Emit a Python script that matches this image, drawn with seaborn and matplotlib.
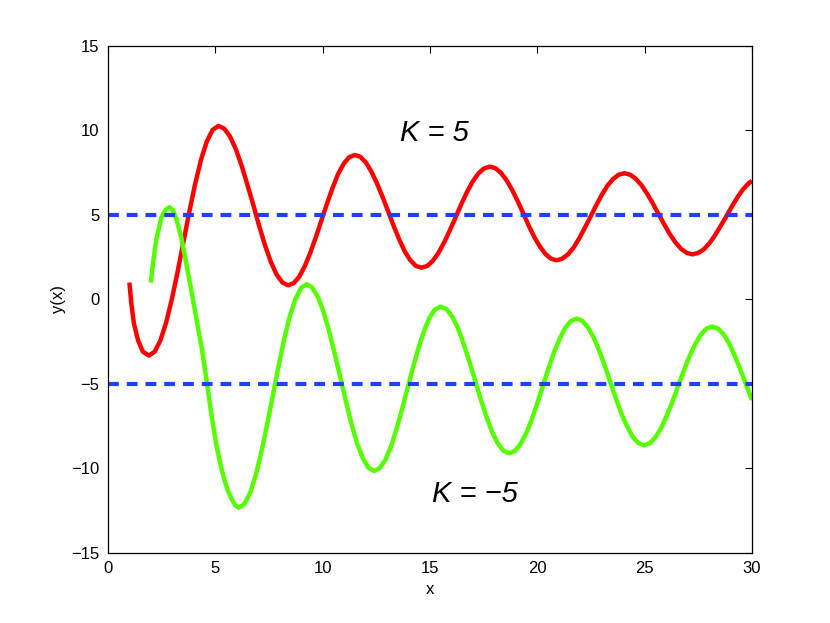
import numpy as np
import pandas as pd
import matplotlib
matplotlib.use("Agg")
import matplotlib.pyplot as plt
import seaborn as sns

# values
x_red = [1.00, 1.09, 1.21, 1.40, 1.63,
         1.91, 2.18, 2.45, 2.72, 2.99, 3.26, 3.53, 3.80, 4.07, 4.34, 4.61, 4.88,
         5.15, 5.42, 5.69, 5.96, 6.23, 6.50, 6.78, 7.05, 7.32, 7.59, 7.86, 8.13,
         8.40, 8.66, 8.92, 9.17, 9.43, 9.69, 9.95, 10.21, 10.47, 10.72, 10.98, 11.24,
         11.50, 11.76, 12.02, 12.27, 12.53, 12.79, 13.05, 13.31, 13.57, 13.82, 14.08, 14.34,
         14.60, 14.87, 15.13, 15.40, 15.66, 15.93, 16.20, 16.46, 16.73, 16.99, 17.26, 17.52,
         17.79, 18.05, 18.31, 18.57, 18.83, 19.09, 19.35, 19.60, 19.86, 20.12, 20.38, 20.64,
         20.90, 21.16, 21.43, 21.69, 21.95, 22.21, 22.48, 22.74, 23.00, 23.26, 23.53, 23.79,
         24.05, 24.32, 24.58, 24.85, 25.11, 25.38, 25.64, 25.91, 26.17, 26.44, 26.70, 26.97,
         27.23, 27.49, 27.76, 28.02, 28.28, 28.54, 28.81, 29.07, 29.33, 29.59, 29.86, 30.00]
y_red = [1.00, -0.23, -1.41, -2.40, -3.09,
         -3.32, -3.09, -2.41, -1.33, 0.08, 1.72, 3.48, 5.24, 6.87, 8.28, 9.36, 10.04,
         10.27, 10.11, 9.64, 8.89, 7.91, 6.78, 5.56, 4.33, 3.20, 2.22, 1.47, 1.00,
         0.84, 0.97, 1.36, 1.97, 2.77, 3.70, 4.70, 5.69, 6.62, 7.42, 8.03, 8.42,
         8.55, 8.44, 8.10, 7.57, 6.88, 6.08, 5.22, 4.35, 3.55, 2.86, 2.33, 1.99,
         1.88, 1.98, 2.28, 2.76, 3.37, 4.10, 4.87, 5.64, 6.37, 6.98, 7.46, 7.76,
         7.86, 7.77, 7.49, 7.05, 6.48, 5.81, 5.09, 4.37, 3.70, 3.13, 2.69, 2.41,
         2.32, 2.41, 2.67, 3.07, 3.61, 4.23, 4.90, 5.56, 6.18, 6.72, 7.13, 7.38,
         7.47, 7.39, 7.15, 6.77, 6.27, 5.69, 5.07, 4.45, 3.87, 3.37, 2.99, 2.75,
         2.67, 2.75, 2.97, 3.33, 3.80, 4.35, 4.93, 5.52, 6.06, 6.53, 6.89, 7.02]

x_green = [2.00, 2.10, 2.25, 2.48, 2.68, 2.87, 3.02, 3.18, 3.41, 3.65, 3.88, 4.19,
           4.40, 4.62, 4.83, 5.05, 5.25, 5.43, 5.60, 5.80, 5.95,
           6.10, 6.36, 6.63, 6.89, 7.15, 7.41, 7.68, 7.94, 8.20, 8.46, 8.73, 8.99,
           9.25, 9.51, 9.78, 10.04, 10.30, 10.56, 10.83, 11.09, 11.35, 11.61, 11.88, 12.14,
           12.40, 12.66, 12.92, 13.18, 13.43, 13.69, 13.95, 14.21, 14.47, 14.73, 14.98, 15.24,
           15.50, 15.77, 16.03, 16.30, 16.56, 16.83, 17.10, 17.36, 17.63, 17.89, 18.16, 18.42,
           18.69, 18.95, 19.21, 19.48, 19.74, 20.00, 20.26, 20.52, 20.78, 21.05, 21.31, 21.57,
           21.83, 22.09, 22.35, 22.62, 22.88, 23.14, 23.40, 23.66, 23.92, 24.19, 24.45, 24.71,
           24.97, 25.24, 25.50, 25.77, 26.03, 26.30, 26.56, 26.83, 27.09, 27.36, 27.62, 27.89,
           28.15, 28.41, 28.68, 28.94, 29.20, 29.46, 29.73, 30.00]
y_green = [1.00, 2.14, 3.52, 4.80, 5.30, 5.46, 5.30, 4.80, 3.72, 2.14, 0.56, -1.61,
           -3.10, -5.00, -6.90, -8.60, -9.80, -10.70, -11.35, -11.90, -12.20,
           -12.32, -12.10, -11.43, -10.38, -9.02, -7.42, -5.71, -4.00, -2.41, -1.04, 0.01, 0.68,
           0.90, 0.71, 0.16, -0.72, -1.86, -3.19, -4.63, -6.06, -7.39, -8.53, -9.41, -9.96,
           -10.15, -9.98, -9.50, -8.72, -7.72, -6.55, -5.29, -4.02, -2.85, -1.85, -1.07, -0.59,
           -0.42, -0.57, -1.00, -1.69, -2.59, -3.64, -4.76, -5.88, -6.93, -7.83, -8.52, -8.95,
           -9.10, -8.97, -8.57, -7.93, -7.11, -6.15, -5.12, -4.08, -3.12, -2.30, -1.66, -1.27,
           -1.13, -1.26, -1.63, -2.23, -3.01, -3.91, -4.88, -5.85, -6.76, -7.53, -8.13, -8.50,
           -8.63, -8.51, -8.16, -7.60, -6.87, -6.03, -5.12, -4.20, -3.36, -2.63, -2.07, -1.72,
           -1.60, -1.72, -2.06, -2.61, -3.33, -4.16, -5.05, -5.95]

k_values = [5, -5]
k_span = [0, 30]
k_labels = ["K = 5", "K = \u22125"]
k_label_pos = [(15.2, 9.85), (17.1, -11.5)]

sns.set_style("white")
plt.rcParams["font.family"] = ["Liberation Sans", "DejaVu Sans"]
plt.rcParams["text.color"] = "black"
plt.rcParams["axes.labelcolor"] = "black"
plt.rcParams["lines.solid_joinstyle"] = "round"
plt.rcParams["lines.solid_capstyle"] = "butt"

fig = plt.figure(figsize=(8.3, 6.23), dpi=100)
ax = fig.add_axes([0.130, 0.1124, 0.776, 0.8138])

sns.lineplot(x=x_red, y=y_red, color="#ff0000", linewidth=3.2, sort=False,
             estimator=None, ax=ax)
sns.lineplot(x=x_green, y=y_green, color="#55ff00", linewidth=3.2, sort=False,
             estimator=None, ax=ax)
for k in k_values:
    sns.lineplot(x=k_span, y=[k, k], color="#2040ff", linewidth=3,
                 dashes=False, ax=ax).lines[-1].set_dashes((2.6, 1.9))

for txt, (tx, ty) in zip(k_labels, k_label_pos):
    ax.text(tx, ty, txt, fontsize=21, style="italic", ha="center", va="center",
            color="black")

ax.set_xlim(0, 30)
ax.set_ylim(-15, 15)
ax.set_xticks(range(0, 31, 5))
ax.set_yticks(range(-15, 16, 5))
ax.tick_params(direction="in", length=5, width=0.8, top=True, right=True,
               labelsize=12, pad=6, colors="black")
for sp in ax.spines.values():
    sp.set_color("black")
    sp.set_linewidth(0.9)
ax.set_xlabel("x", fontsize=12, color="black")
ax.set_ylabel("y(x)", fontsize=12, color="black")

fig.savefig("out.png", dpi=100)
